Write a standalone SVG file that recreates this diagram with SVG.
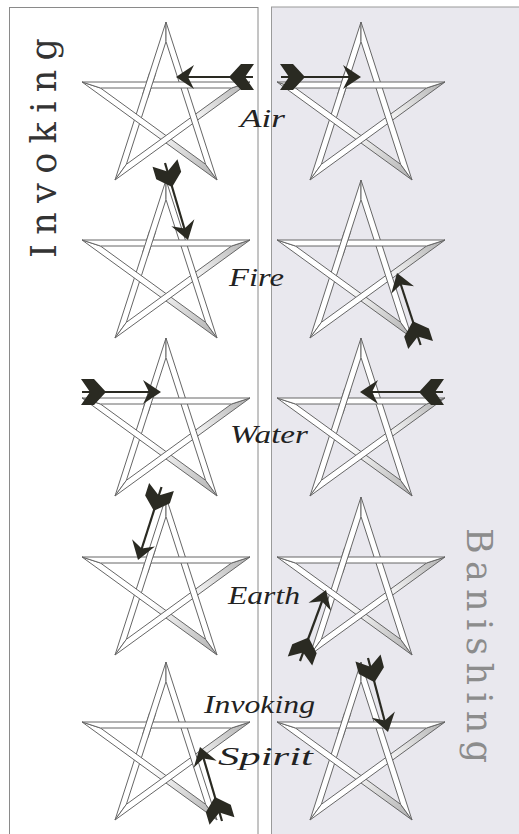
<svg xmlns="http://www.w3.org/2000/svg" xmlns:xlink="http://www.w3.org/1999/xlink" width="519" height="834" viewBox="0 0 519 834">
<style>
.band{fill:#ffffff;stroke:#666666;stroke-width:1;stroke-linejoin:miter}
.shaft{stroke:#2a2a22;stroke-width:2.2;fill:none}
.ah{fill:#2a2a22}
.lbl{font-family:"Liberation Serif","DejaVu Serif",serif;font-style:italic;font-size:25px;fill:#222}
.side{font-family:"DejaVu Serif","Liberation Serif",serif;font-size:35px}
</style>
<defs>
<linearGradient id="g1" gradientUnits="userSpaceOnUse" x1="84" y1="60" x2="-51" y2="158">
<stop offset="0" stop-color="#b0b0b0"/><stop offset="0.45" stop-color="#ffffff"/>
</linearGradient>
<linearGradient id="g3" gradientUnits="userSpaceOnUse" x1="-84" y1="60" x2="51" y2="158">
<stop offset="0.5" stop-color="#ffffff"/><stop offset="1" stop-color="#b0b0b0"/>
</linearGradient>
<clipPath id="c02"><circle cx="-15" cy="63" r="13"/></clipPath>
<g id="star">
<polygon class="band" points="0,0 -51,158 -39.64,142.34 0,19.53"/>
<polygon class="band" style="fill:url(#g3)" points="-84,60 51,158 39.64,142.34 -65.52,66"/>
<polygon class="band" style="fill:url(#g1)" points="-51,158 84,60 65.52,66 -39.64,142.34"/>
<polygon class="band" points="51,158 0,0 0,19.53 39.64,142.34"/>
<polygon class="band" points="84,60 -84,60 -65.52,66 65.52,66"/>
<polygon class="band" clip-path="url(#c02)" points="0,0 -51,158 -39.64,142.34 0,19.53"/>
</g>
<path id="head" class="ah" d="M0,0 L-18,-12 L-12,0 L-18,12 Z"/>
<path id="fletch" class="ah" d="M25,0 L13,-13 L0,-13 L9,0 L0,13 L13,13 Z"/>
</defs>

<g id="panels">
<rect id="invoking-panel" x="9.5" y="7.5" width="248.5" height="840" fill="#ffffff" stroke="#8a8a8a" stroke-width="1"/>
<rect id="banishing-panel" x="271.5" y="7" width="260" height="840" fill="#e9e8ee" stroke="#9a9a9a" stroke-width="1"/>
</g>

<g id="stars">
<use id="inv-air" xlink:href="#star" transform="translate(166,22)"/>
<use id="ban-air" xlink:href="#star" transform="translate(361,22)"/>
<use id="inv-fire" xlink:href="#star" transform="translate(166,180)"/>
<use id="ban-fire" xlink:href="#star" transform="translate(361,180)"/>
<use id="inv-water" xlink:href="#star" transform="translate(166,338)"/>
<use id="ban-water" xlink:href="#star" transform="translate(361,338)"/>
<use id="inv-earth" xlink:href="#star" transform="translate(166,497)"/>
<use id="ban-earth" xlink:href="#star" transform="translate(361,497)"/>
<use id="inv-spirit" xlink:href="#star" transform="translate(166,662)"/>
<use id="ban-spirit" xlink:href="#star" transform="translate(361,662)"/>
</g>

<g id="connectors">
<g id="arrow-inv-air"><line class="shaft" x1="253" y1="77" x2="182" y2="77"/><use xlink:href="#head" transform="translate(176,77) rotate(180)"/><use xlink:href="#fletch" transform="translate(254,77) rotate(180)"/></g>
<g id="arrow-ban-air"><line class="shaft" x1="281" y1="77" x2="355" y2="77"/><use xlink:href="#head" transform="translate(361,77)"/><use xlink:href="#fletch" transform="translate(280,77)"/></g>
<g id="arrow-inv-fire"><line class="shaft" x1="165" y1="163" x2="186" y2="234"/><use xlink:href="#head" transform="translate(188,240) rotate(73.4)"/><use xlink:href="#fletch" transform="translate(165,163) rotate(73.4)"/></g>
<g id="arrow-ban-fire"><line class="shaft" x1="420.6" y1="345" x2="399" y2="279"/><use xlink:href="#head" transform="translate(397,273) rotate(-108.2)"/><use xlink:href="#fletch" transform="translate(420.6,345) rotate(-108.2)"/></g>
<g id="arrow-inv-water"><line class="shaft" x1="82" y1="392" x2="155" y2="392"/><use xlink:href="#head" transform="translate(161,392)"/><use xlink:href="#fletch" transform="translate(81,392)"/></g>
<g id="arrow-ban-water"><line class="shaft" x1="443" y1="392" x2="366" y2="392"/><use xlink:href="#head" transform="translate(360,392) rotate(180)"/><use xlink:href="#fletch" transform="translate(444,392) rotate(180)"/></g>
<g id="arrow-inv-earth"><line class="shaft" x1="161.5" y1="487" x2="140" y2="554"/><use xlink:href="#head" transform="translate(138,560) rotate(107.8)"/><use xlink:href="#fletch" transform="translate(161.5,487) rotate(107.8)"/></g>
<g id="arrow-ban-earth"><line class="shaft" x1="300" y1="661" x2="324" y2="596"/><use xlink:href="#head" transform="translate(326,590) rotate(-69.9)"/><use xlink:href="#fletch" transform="translate(300,661) rotate(-69.9)"/></g>
<g id="arrow-inv-spirit"><line class="shaft" x1="222" y1="821" x2="202" y2="753"/><use xlink:href="#head" transform="translate(200,747) rotate(-106.6)"/><use xlink:href="#fletch" transform="translate(222,821) rotate(-106.6)"/></g>
<g id="arrow-ban-spirit"><line class="shaft" x1="368" y1="658" x2="386" y2="726"/><use xlink:href="#head" transform="translate(388,732) rotate(74.9)"/><use xlink:href="#fletch" transform="translate(368,658) rotate(74.9)"/></g>
</g>

<g id="labels">
<text class="lbl" x="240" y="127" textLength="45" lengthAdjust="spacingAndGlyphs">Air</text>
<text class="lbl" x="229" y="286" textLength="55" lengthAdjust="spacingAndGlyphs">Fire</text>
<text class="lbl" x="230" y="443" textLength="78" lengthAdjust="spacingAndGlyphs">Water</text>
<text class="lbl" x="228" y="604" textLength="72" lengthAdjust="spacingAndGlyphs">Earth</text>
<text class="lbl" x="204" y="713" textLength="111" lengthAdjust="spacingAndGlyphs">Invoking</text>
<text class="lbl" x="218" y="765" textLength="95" lengthAdjust="spacingAndGlyphs">Spirit</text>
<text class="side" fill="#333333" transform="translate(56,258) rotate(-90)" textLength="220" lengthAdjust="spacing">Invoking</text>
<text class="side" fill="#8c8c8c" transform="translate(467,528) rotate(90)" textLength="235" lengthAdjust="spacing">Banishing</text>
</g>
</svg>
